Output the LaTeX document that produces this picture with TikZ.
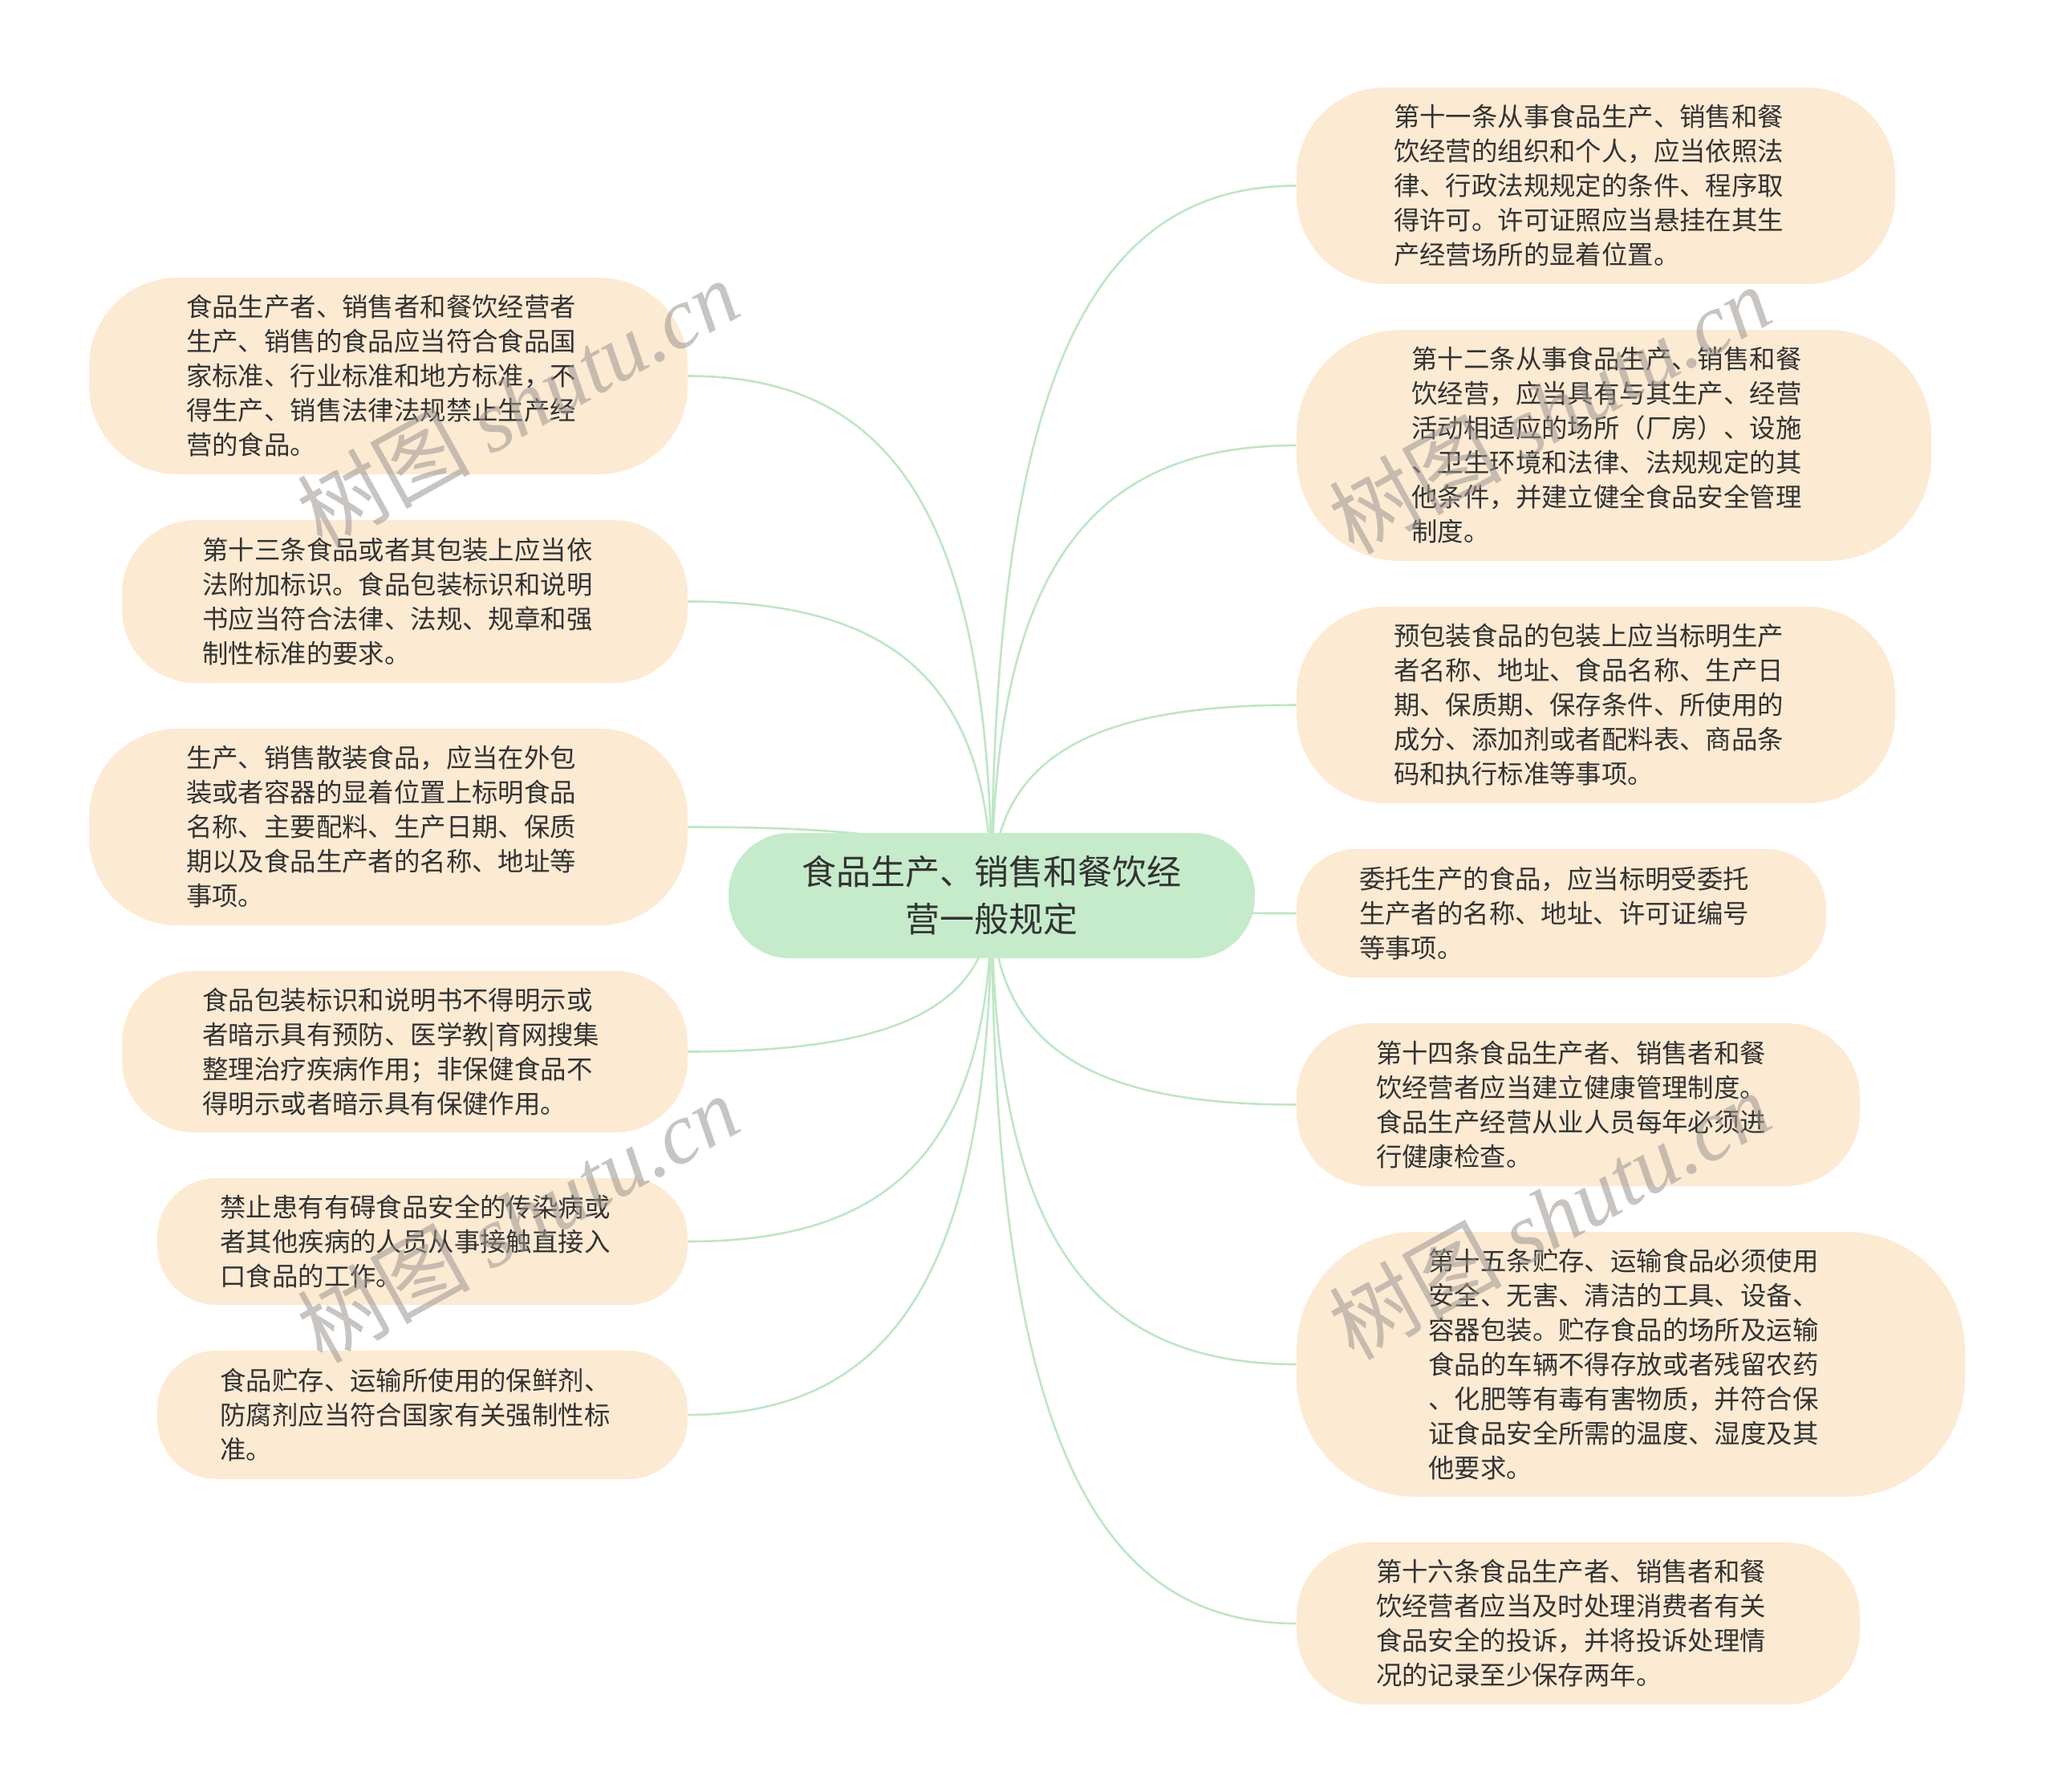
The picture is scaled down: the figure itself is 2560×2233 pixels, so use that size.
\documentclass[tikz,border=0pt]{standalone}
\usepackage{fontspec}
\newfontfamily\cjk{Noto Sans CJK SC}
\newfontfamily\wmlatin{Liberation Serif}
\usetikzlibrary{calc,backgrounds}
\definecolor{leaffill}{HTML}{FDEAD3}
\definecolor{rootfill}{HTML}{C5EBCB}
\definecolor{linkcol}{HTML}{BFE6C5}
\definecolor{txtcol}{HTML}{333333}
\definecolor{wmcol}{HTML}{9A9590}
\tikzset{
  leaf/.style={draw=none, fill=leaffill, align=left, text width=252pt, inner sep=0pt, text=txtcol,
    font=\cjk\fontsize{16.2pt}{21.5pt}\selectfont},
  root/.style={draw=none, fill=rootfill, align=center, inner sep=0pt, text=txtcol,
    font=\cjk\fontsize{21.5pt}{29.5pt}\selectfont},
  link/.style={draw=linkcol, line width=1.3pt},
  wmark/.style={text=wmcol, opacity=0.55, rotate=29, inner sep=0pt}
}
\newcommand\conn[2]{\draw[link] let \p1=(#1), \p2=(#2) in (\p1) .. controls (\x1,{\y1+0.75*(\y2-\y1)}) and ({\x1+0.35*(\x2-\x1)},\y2) .. (\p2);}
\begin{document}
\begin{tikzpicture}[x=0.5pt,y=-0.5pt]
\useasboundingbox (0,0) rectangle (2560,2233);

% root
\node[root, minimum width=328pt, minimum height=78pt, rounded corners=38pt] (c) at (1236,1116) {食品生产、销售和餐饮经\\营一般规定};

% left leaves
\node[leaf, minimum width=373pt, minimum height=122.5pt, rounded corners=55pt] (l1) at (484,468.5)
 {食品生产者、销售者和餐饮经营者\\生产、销售的食品应当符合食品国\\家标准、行业标准和地方标准，不\\得生产、销售法律法规禁止生产经\\营的食品。};
\node[leaf, minimum width=352.5pt, minimum height=101.5pt, rounded corners=46pt] (l2) at (504.5,749.5)
 {第十三条食品或者其包装上应当依\\法附加标识。食品包装标识和说明\\书应当符合法律、法规、规章和强\\制性标准的要求。};
\node[leaf, minimum width=373pt, minimum height=122.5pt, rounded corners=55pt] (l3) at (484,1030.5)
 {生产、销售散装食品，应当在外包\\装或者容器的显着位置上标明食品\\名称、主要配料、生产日期、保质\\期以及食品生产者的名称、地址等\\事项。};
\node[leaf, minimum width=352.5pt, minimum height=100.5pt, rounded corners=45pt] (l4) at (504.5,1310.5)
 {食品包装标识和说明书不得明示或\\者暗示具有预防、医学教|育网搜集\\整理治疗疾病作用；非保健食品不\\得明示或者暗示具有保健作用。};
\node[leaf, minimum width=330.5pt, minimum height=79pt, rounded corners=37pt] (l5) at (526.5,1547)
 {禁止患有有碍食品安全的传染病或\\者其他疾病的人员从事接触直接入\\口食品的工作。};
\node[leaf, minimum width=330.5pt, minimum height=80pt, rounded corners=37pt] (l6) at (526.5,1763)
 {食品贮存、运输所使用的保鲜剂、\\防腐剂应当符合国家有关强制性标\\准。};

% right leaves
\node[leaf, minimum width=373pt, minimum height=122.5pt, rounded corners=55pt] (r1) at (1989,231.5)
 {第十一条从事食品生产、销售和餐\\饮经营的组织和个人，应当依照法\\律、行政法规规定的条件、程序取\\得许可。许可证照应当悬挂在其生\\产经营场所的显着位置。};
\node[leaf, minimum width=395.5pt, minimum height=144pt, rounded corners=65pt] (r2) at (2011.5,555)
 {第十二条从事食品生产、销售和餐\\饮经营，应当具有与其生产、经营\\活动相适应的场所（厂房）、设施\\、卫生环境和法律、法规规定的其\\他条件，并建立健全食品安全管理\\制度。};
\node[leaf, minimum width=373pt, minimum height=122.5pt, rounded corners=55pt] (r3) at (1989,878.5)
 {预包装食品的包装上应当标明生产\\者名称、地址、食品名称、生产日\\期、保质期、保存条件、所使用的\\成分、添加剂或者配料表、商品条\\码和执行标准等事项。};
\node[leaf, minimum width=330pt, minimum height=80pt, rounded corners=37pt] (r4) at (1946,1138)
 {委托生产的食品，应当标明受委托\\生产者的名称、地址、许可证编号\\等事项。};
\node[leaf, minimum width=351pt, minimum height=101.5pt, rounded corners=46pt] (r5) at (1967,1376.5)
 {第十四条食品生产者、销售者和餐\\饮经营者应当建立健康管理制度。\\食品生产经营从业人员每年必须进\\行健康检查。};
\node[leaf, minimum width=416.5pt, minimum height=165pt, rounded corners=74pt] (r6) at (2032.5,1700)
 {第十五条贮存、运输食品必须使用\\安全、无害、清洁的工具、设备、\\容器包装。贮存食品的场所及运输\\食品的车辆不得存放或者残留农药\\、化肥等有毒有害物质，并符合保\\证食品安全所需的温度、湿度及其\\他要求。};
\node[leaf, minimum width=351pt, minimum height=101pt, rounded corners=46pt] (r7) at (1967,2023)
 {第十六条食品生产者、销售者和餐\\饮经营者应当及时处理消费者有关\\食品安全的投诉，并将投诉处理情\\况的记录至少保存两年。};

% connectors
\begin{scope}[on background layer]
\fill[white] (0,0) rectangle (2560,2233);
\conn{c.center}{l1.east}
\conn{c.center}{l2.east}
\conn{c.center}{l3.east}
\conn{c.center}{l4.east}
\conn{c.center}{l5.east}
\conn{c.center}{l6.east}
\conn{c.center}{r1.west}
\conn{c.center}{r2.west}
\conn{c.center}{r3.west}
\conn{c.center}{r4.west}
\conn{c.center}{r5.west}
\conn{c.center}{r6.west}
\conn{c.center}{r7.west}
\end{scope}

% watermarks
\node[wmark] (w1) at (645,502) {\cjk\fontsize{54pt}{54pt}\selectfont 树图\ \wmlatin\itshape shutu.cn};
\node[wmark] (w2) at (1931,510) {\cjk\fontsize{54pt}{54pt}\selectfont 树图\ \wmlatin\itshape shutu.cn};
\node[wmark] (w3) at (645,1518) {\cjk\fontsize{54pt}{54pt}\selectfont 树图\ \wmlatin\itshape shutu.cn};
\node[wmark] (w4) at (1931,1514) {\cjk\fontsize{54pt}{54pt}\selectfont 树图\ \wmlatin\itshape shutu.cn};
\end{tikzpicture}
\end{document}
